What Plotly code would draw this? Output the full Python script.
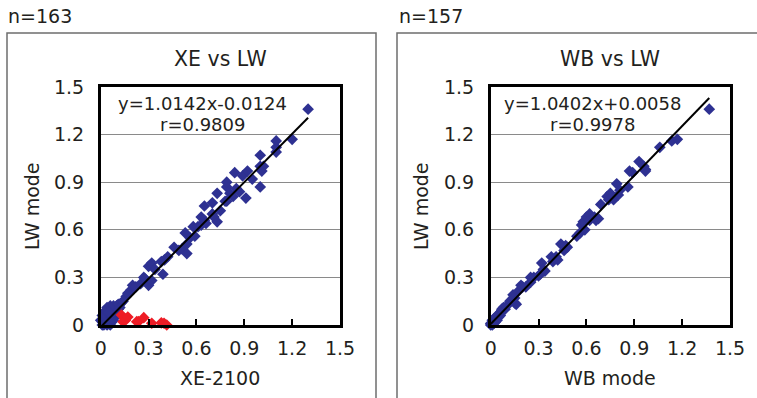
import plotly.graph_objects as go

W, H = 757, 398

# ---------------- data ----------------
xe_blue_x = [0.01, 0.02, 0.02, 0.03, 0.03, 0.04, 0.05, 0.05, 0.06, 0.06, 0.07, 0.07, 0.08, 0.08, 0.09,
             0.04, 0.05, 0.03, 0.02, 0.06, 0.10, 0.11, 0.10, 0.12, 0.13, 0.08, 0.06, 0.04, 0.01, 0.02,
             0.05, 0.09, 0.07, 0.00, 0.01, 0.03, 0.04, 0.06, 0.08, 0.09, 0.11, 0.12, 0.07, 0.05, 0.03,
             0.14, 0.16, 0.19, 0.20, 0.17, 0.22, 0.25, 0.27, 0.28, 0.30, 0.32, 0.30, 0.32, 0.34, 0.39,
             0.38, 0.40, 0.42, 0.46, 0.49, 0.51, 0.54, 0.54, 0.53, 0.56, 0.59, 0.58, 0.61, 0.63, 0.63,
             0.65, 0.65, 0.66, 0.70, 0.71, 0.70, 0.73, 0.73, 0.75, 0.78, 0.79, 0.79, 0.79, 0.81, 0.83,
             0.84, 0.85, 0.87, 0.89, 0.91, 0.92, 0.95, 1.00, 1.00, 1.00, 1.01, 1.02, 1.10, 1.10, 1.10,
             1.20, 1.30]
xe_blue_y = [0.00, 0.01, 0.03, 0.02, 0.05, 0.04, 0.06, 0.03, 0.08, 0.05, 0.10, 0.07, 0.09, 0.06, 0.11,
             0.08, 0.10, 0.07, 0.05, 0.11, 0.12, 0.10, 0.08, 0.13, 0.14, 0.03, 0.00, 0.00, 0.02, 0.00,
             0.01, 0.05, 0.02, 0.03, 0.06, 0.09, 0.11, 0.12, 0.12, 0.07, 0.13, 0.11, 0.04, 0.08, 0.01,
             0.15, 0.18, 0.22, 0.25, 0.20, 0.24, 0.26, 0.30, 0.29, 0.25, 0.28, 0.37, 0.39, 0.35, 0.32,
             0.40, 0.41, 0.43, 0.49, 0.47, 0.48, 0.45, 0.51, 0.58, 0.55, 0.56, 0.62, 0.62, 0.63, 0.68,
             0.66, 0.75, 0.64, 0.70, 0.68, 0.77, 0.65, 0.83, 0.72, 0.78, 0.87, 0.90, 0.78, 0.83, 0.81,
             0.96, 0.86, 0.84, 0.94, 0.80, 0.97, 0.92, 0.87, 1.00, 1.07, 0.97, 1.00, 1.09, 1.12, 1.16,
             1.17, 1.36]
xe_red_x = [0.13, 0.14, 0.15, 0.155, 0.17, 0.226, 0.236, 0.27, 0.32, 0.38, 0.397, 0.414]
xe_red_y = [0.063, 0.02, 0.04, 0.03, 0.05, 0.021, 0.021, 0.046, 0.011, 0.014, 0.011, 0.0]

wb_x = [0.00, 0.01, 0.01, 0.02, 0.02, 0.03, 0.03, 0.04, 0.04, 0.05, 0.05, 0.06, 0.06, 0.07, 0.07,
        0.08, 0.09, 0.10, 0.02, 0.00, 0.01, 0.03, 0.04,
        0.12, 0.14, 0.15, 0.16, 0.15, 0.17, 0.19, 0.20, 0.22, 0.25, 0.25, 0.27, 0.30, 0.31, 0.32,
        0.33, 0.34, 0.38, 0.39, 0.41, 0.42, 0.44, 0.46, 0.48, 0.47, 0.54, 0.56, 0.57, 0.58, 0.59,
        0.60, 0.62, 0.62, 0.65, 0.66, 0.675, 0.69, 0.73, 0.75, 0.74, 0.77, 0.79, 0.81, 0.80, 0.86,
        0.87, 0.89, 0.93, 0.96, 0.97, 0.97, 1.06, 1.135, 1.17, 1.37]
wb_y = [0.00, 0.01, 0.00, 0.02, 0.01, 0.03, 0.04, 0.05, 0.06, 0.05, 0.07, 0.08, 0.06, 0.09, 0.10,
        0.11, 0.10, 0.12, 0.04, 0.01, 0.03, 0.02, 0.03,
        0.15, 0.19, 0.14, 0.13, 0.17, 0.21, 0.25, 0.24, 0.24, 0.27, 0.30, 0.30, 0.31, 0.32, 0.39,
        0.35, 0.34, 0.43, 0.40, 0.43, 0.41, 0.51, 0.47, 0.49, 0.50, 0.56, 0.58, 0.63, 0.65, 0.60,
        0.68, 0.70, 0.66, 0.68, 0.66, 0.67, 0.76, 0.81, 0.83, 0.79, 0.79, 0.89, 0.85, 0.82, 0.87,
        0.97, 0.96, 1.03, 1.00, 0.98, 0.97, 1.12, 1.16, 1.17, 1.36]

xe_slope, xe_icpt = 1.0142, -0.0124
wb_slope, wb_icpt = 1.0402, 0.0058

axis_vals = [0, 0.3, 0.6, 0.9, 1.2, 1.5]
axis_text = ["0", "0.3", "0.6", "0.9", "1.2", "1.5"]

# ---------------- figure ----------------
BLUE = "#2e3192"
RED = "#ee1c25"
TXT = "#231f20"
FONT = "DejaVu Sans"


def px(x):
    return x / W


def py(y):
    return 1 - y / H


fig = go.Figure()


def add_panel(xs, ys, slope, icpt, xa, ya, red=None):
    fig.add_trace(go.Scatter(x=xs, y=ys, mode="markers", xaxis=xa, yaxis=ya,
                             marker=dict(symbol="diamond", size=9, color=BLUE, line=dict(width=0)),
                             cliponaxis=False, showlegend=False, hoverinfo="x+y"))
    if red:
        fig.add_trace(go.Scatter(x=red[0], y=red[1], mode="markers", xaxis=xa, yaxis=ya,
                                 marker=dict(symbol="diamond", size=9, color=RED, line=dict(width=0)),
                                 cliponaxis=False, showlegend=False, hoverinfo="x+y"))
    allx = list(xs) + (list(red[0]) if red else [])
    x0, x1 = min(allx), max(allx)
    fig.add_trace(go.Scatter(x=[x0, x1], y=[slope * x0 + icpt, slope * x1 + icpt], mode="lines",
                             xaxis=xa, yaxis=ya, line=dict(color="black", width=2),
                             cliponaxis=False, showlegend=False, hoverinfo="skip"))


add_panel(xe_blue_x, xe_blue_y, xe_slope, xe_icpt, "x", "y", red=(xe_red_x, xe_red_y))
add_panel(wb_x, wb_y, wb_slope, wb_icpt, "x2", "y2")

ydom = [py(325), py(87)]
xaxis_common = dict(range=[0, 1.5], tickvals=axis_vals, ticktext=axis_text,
                    ticks="inside", ticklen=6, tickwidth=2, tickcolor="black",
                    showline=True, mirror=True, linewidth=2.5, linecolor="black",
                    showgrid=False, zeroline=False, ticklabelstandoff=4, automargin=False,
                    tickfont=dict(family=FONT, size=19, color=TXT), fixedrange=True)
yaxis_common = dict(range=[0, 1.5], tickvals=axis_vals, ticktext=axis_text,
                    ticks="", showline=True, mirror=True, linewidth=2.5, linecolor="black",
                    showgrid=True, gridcolor="#8a8a8a", gridwidth=1, zeroline=False,
                    ticklabelstandoff=10, automargin=False,
                    tickfont=dict(family=FONT, size=19, color=TXT), fixedrange=True)

fig.update_layout(
    template="none",
    width=W, height=H,
    margin=dict(l=0, r=0, t=0, b=0, autoexpand=False),
    paper_bgcolor="white", plot_bgcolor="white",
    xaxis=dict(domain=[px(100.7), px(340)], anchor="y", **xaxis_common),
    yaxis=dict(domain=ydom, anchor="x", **yaxis_common),
    xaxis2=dict(domain=[px(490.7), px(730)], anchor="y2", **xaxis_common),
    yaxis2=dict(domain=ydom, anchor="x2", **yaxis_common),
    showlegend=False,
)

# outer chart-area frames
for x0, x1 in [(7, 376), (397, 800)]:
    fig.add_shape(type="rect", xref="paper", yref="paper",
                  x0=px(x0), x1=px(x1), y0=py(33), y1=py(420),
                  line=dict(color="#6e6e6e", width=1.5), fillcolor="rgba(0,0,0,0)", layer="below")


def note(text, x, y, size=18, angle=0, xanchor="center"):
    fig.add_annotation(text=text, x=px(x), y=py(y), xref="paper", yref="paper",
                       showarrow=False, xanchor=xanchor, yanchor="middle", textangle=angle,
                       font=dict(family=FONT, size=size, color=TXT))


note("n=163", 6, 16, size=19, xanchor="left")
note("n=157", 397, 16, size=19, xanchor="left")
note("XE vs LW", 220, 59, size=20.5)
note("WB vs LW", 610, 59, size=20.5)
note("y=1.0142x-0.0124", 202, 103)
note("r=0.9809", 202, 124)
note("y=1.0402x+0.0058", 592, 103)
note("r=0.9978", 592, 124)
note("LW mode", 32, 206, size=19, angle=-90)
note("LW mode", 421, 206, size=19, angle=-90)
note("XE-2100", 220, 378, size=19)
note("WB mode", 610, 378, size=19)

fig.write_html("out.html", config={"displayModeBar": False},
               post_script="document.body.style.margin='0';document.body.style.overflow='hidden';")
